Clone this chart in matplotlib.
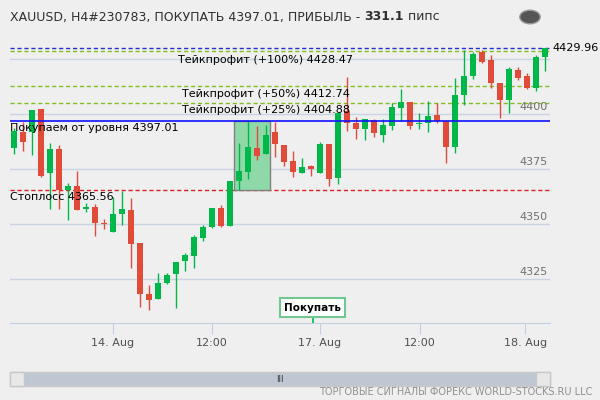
import matplotlib
matplotlib.use("Agg")
import matplotlib.pyplot as plt
from matplotlib.patches import Rectangle, Circle

opens  = [4384.6,4391.8,4391.8,4402.3,4373.0,4384.0,4365.3,4367.3,4356.8,4357.5,
          4350.6,4346.5,4354.7,4356.4,4341.2,4318.0,4315.8,4323.0,4327.2,4333.2,
          4335.5,4343.6,4348.5,4357.4,4349.0,4369.4,4373.8,4384.4,4381.7,4392.0,
          4385.8,4378.6,4373.2,4376.4,4373.3,4386.4,4370.8,4401.4,4395.8,4393.3,
          4397.3,4390.6,4394.5,4402.7,4405.3,4395.5,4395.8,4399.4,4397.0,4385.2,
          4408.6,4417.4,4428.0,4424.5,4414.2,4406.4,4420.0,4417.3,4412.0,4426.0]
closes = [4392.1,4387.3,4401.8,4372.0,4384.0,4365.3,4367.3,4356.4,4357.7,4350.4,
          4350.0,4354.4,4356.8,4341.0,4318.3,4315.6,4323.0,4326.6,4332.8,4335.8,
          4344.0,4348.5,4357.4,4349.0,4369.4,4373.9,4384.8,4380.9,4390.6,4386.2,
          4378.3,4373.5,4376.1,4375.2,4386.4,4370.3,4400.6,4395.8,4393.3,4397.7,
          4391.2,4394.8,4403.0,4405.3,4394.5,4395.8,4399.0,4397.0,4385.2,4408.6,
          4417.3,4427.3,4423.8,4413.9,4406.4,4420.3,4416.2,4412.0,4426.0,4430.0]
highs  = [4393.6,4396.3,4401.8,4402.3,4387.0,4386.0,4368.8,4374.0,4359.6,4359.3,
          4352.3,4362.4,4364.8,4362.0,4341.2,4322.3,4327.9,4327.9,4332.8,4336.6,
          4345.2,4349.4,4357.4,4358.5,4369.4,4387.0,4396.7,4394.5,4395.2,4396.5,
          4386.0,4383.2,4380.2,4377.0,4387.4,4386.4,4400.6,4417.0,4398.5,4397.7,
          4397.6,4397.6,4404.8,4411.2,4405.3,4400.6,4405.9,4404.8,4397.0,4416.2,
          4429.0,4428.3,4429.0,4426.8,4414.2,4421.5,4421.2,4418.5,4426.8,4430.0]
lows   = [4382.0,4383.0,4381.4,4371.2,4356.6,4357.0,4351.7,4356.4,4355.5,4344.5,
          4347.6,4346.5,4349.6,4330.0,4312.4,4311.0,4315.8,4322.5,4311.6,4328.5,
          4330.1,4342.3,4348.1,4348.6,4349.0,4365.6,4370.3,4379.0,4381.7,4380.6,
          4376.4,4371.5,4373.2,4371.8,4373.3,4367.3,4368.2,4392.4,4388.6,4388.2,
          4389.4,4387.4,4392.7,4396.7,4393.0,4393.0,4392.0,4395.8,4377.9,4382.4,
          4404.1,4415.8,4423.0,4411.7,4398.3,4400.6,4415.5,4411.2,4410.2,4419.7]
tick_pos = [11, 22, 34, 45.1, 56.8]
tick_labels = ["14. Aug", "12:00", "17. Aug", "12:00", "18. Aug"]
grid_levels = [4325, 4350, 4375, 4400, 4425]
tp100, tp50, tp25, entry, stop, last = 4428.47, 4412.74, 4404.88, 4397.01, 4365.56, 4429.96

BG = "#efefef"
GREEN = "#00b84a"
RED = "#e04b3a"
fig = plt.figure(figsize=(6, 4), dpi=100, facecolor=BG)
ax = fig.add_axes([10/600, 77/400, 540/600, 283/400], facecolor=BG)
ax.set_xlim(-0.444, 59.56)
ax.set_ylim(4305, 4433.6)
for s in ax.spines.values():
    s.set_visible(False)
ax.spines["bottom"].set_visible(True)
ax.spines["bottom"].set_color("#c0d0e0")

for g in grid_levels:
    ax.axhline(g, color="#c8d4e4", lw=1, zorder=0)
for g in grid_levels[:4]:
    ax.text(59.3, g + 0.8, str(g), ha="right", va="bottom", color="#707070", fontsize=8)

for i, (o, c, h, l) in enumerate(zip(opens, closes, highs, lows)):
    col = GREEN if c >= o else RED
    ax.vlines(i, l, h, color=col, lw=1, zorder=3)
    ax.add_patch(Rectangle((i - 0.38, min(o, c)), 0.76, max(abs(c - o), 0.4),
                           color=col, zorder=4, lw=0))

ax.add_patch(Rectangle((24.5, stop), 4.0, entry - stop, facecolor="#8fd9a8",
                       edgecolor="#808080", lw=1, zorder=2))

ax.axhline(last, color="#2030d0", lw=1, ls=(0, (3, 2)), zorder=1)
for v in (tp100, tp50, tp25):
    ax.axhline(v, color="#80c020", lw=1, ls=(0, (3, 2)), zorder=1)
ax.axhline(entry, color="#1010ff", lw=1.2, zorder=5)
ax.axhline(stop, color="#e02020", lw=1, ls=(0, (3, 2)), zorder=1)

fs = 8
ax.text(28, tp100 - 1.5, "Тейкпрофит (+100%) 4428.47", ha="center", va="top", fontsize=fs, zorder=6)
ax.text(28, tp50 - 1.2, "Тейкпрофит (+50%) 4412.74", ha="center", va="top", fontsize=fs, zorder=6)
ax.text(28, tp25 - 1.0, "Тейкпрофит (+25%) 4404.88", ha="center", va="top", fontsize=fs, zorder=6)
ax.text(-0.4, entry - 1.0, "Покупаем от уровня 4397.01", ha="left", va="top", fontsize=fs, zorder=6)
ax.text(-0.4, stop - 1.0, "Стоплосс 4365.56", ha="left", va="top", fontsize=fs, zorder=6)
ax.text(59.8, last, "4429.96", ha="left", va="center", fontsize=8, clip_on=False)

ax.set_xticks(tick_pos)
ax.set_xticklabels(tick_labels, color="#505050", fontsize=8)
ax.tick_params(axis="x", length=8, color="#c0d0e0", pad=3)
ax.set_yticks([])

ax.vlines(33.2, 4305, 4307.2, color=GREEN, lw=1.2, zorder=6)
ax.text(33.2, 4312.0, "Покупать", ha="center", va="center", fontsize=7.5, fontweight="bold",
        bbox=dict(boxstyle="square,pad=0.4", fc="white", ec="#70c890", lw=1.5), zorder=7)

# title, laid out piece by piece
r = fig.canvas.get_renderer()
x = 10
for txt, w in [("XAUUSD, H4#230783, ПОКУПАТЬ 4397.01, ПРИБЫЛЬ - ", "normal"),
               ("331.1", "bold"), (" пипс", "normal")]:
    t = fig.text(x/600, 1 - 17/400, txt, fontsize=9, va="center", color="#303030", fontweight=w)
    x += t.get_window_extent(r).width
fig.patches.append(Circle((530/600, 1 - 17/400), 0.017, transform=fig.transFigure,
                          facecolor="#555555", edgecolor="#999999"))

fig.patches.append(Rectangle((10/600, 1 - 386/400), 540/600, 14/400, transform=fig.transFigure,
                             facecolor="#bfc7d2", edgecolor="#c8c8c8"))
fig.patches.append(Rectangle((10/600, 1 - 386/400), 14/600, 14/400, transform=fig.transFigure,
                             facecolor="#e8e8e8", edgecolor="#c8c8c8"))
fig.patches.append(Rectangle((536/600, 1 - 386/400), 14/600, 14/400, transform=fig.transFigure,
                             facecolor="#e8e8e8", edgecolor="#c8c8c8"))
fig.text(280/600, 1 - 379/400, "III", fontsize=6, ha="center", va="center", color="#333333")
fig.text(592/600, 1 - 392/400, "ТОРГОВЫЕ СИГНАЛЫ ФОРЕКС WORLD-STOCKS.RU LLC", fontsize=7,
         ha="right", va="center", color="#909090")

fig.savefig("out.png", dpi=100, facecolor=BG)
